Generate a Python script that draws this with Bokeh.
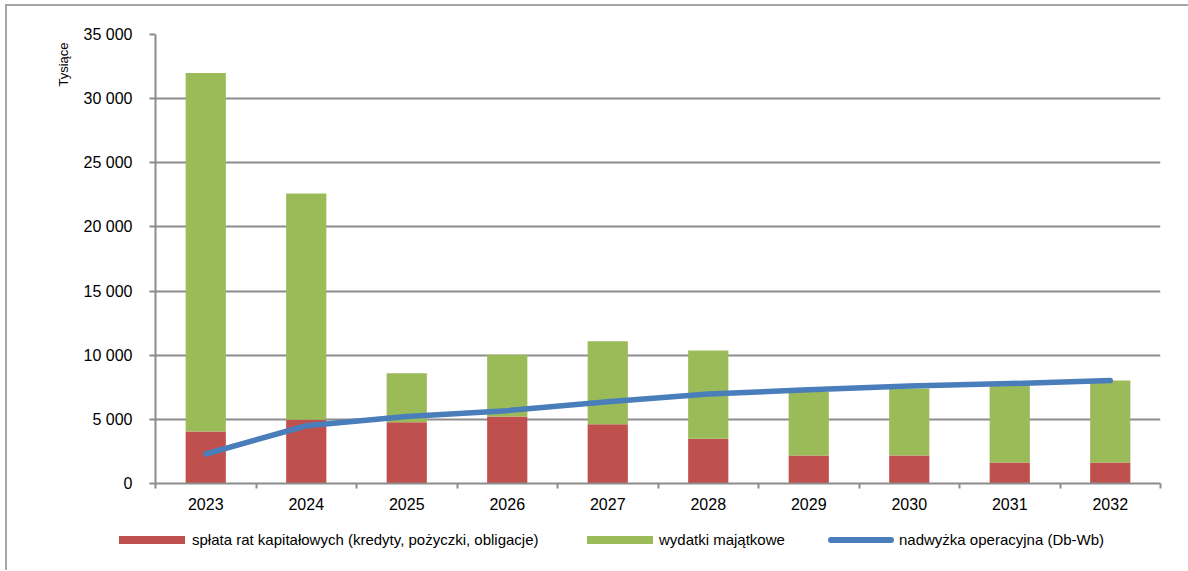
from bokeh.plotting import figure
from bokeh.layouts import column
from bokeh.models import FixedTicker, Title, ColumnDataSource, Div
from bokeh.embed import file_html
from bokeh.resources import INLINE

# ---- data ----
years = ["2023", "2024", "2025", "2026", "2027", "2028", "2029", "2030", "2031", "2032"]
splata = [4050, 4960, 4780, 5230, 4610, 3490, 2180, 2180, 1640, 1640]
wydatki = [27950, 17640, 3820, 4800, 6480, 6880, 4970, 5220, 6130, 6390]
nadwyzka = [2300, 4500, 5230, 5680, 6380, 6980, 7300, 7600, 7790, 8020]
y_ticks = [0, 5000, 10000, 15000, 20000, 25000, 30000, 35000]
y_tick_labels = ["0", "5 000", "10 000", "15 000", "20 000", "25 000", "30 000", "35 000"]
series_names = ["spłata rat kapitałowych (kredyty, pożyczki, obligacje)",
                "wydatki majątkowe",
                "nadwyżka operacyjna (Db-Wb)"]
y_title = "Tysiące"

RED = "#C0504D"
GREEN = "#9BBB59"
BLUE = "#4A7EBB"
GRAY = "#8C8C8C"
FONT = "Liberation Sans"

xpos = [i + 1 for i in range(len(years))]
src = ColumnDataSource(dict(x=xpos, splata=splata, wydatki=wydatki, nadwyzka=nadwyzka))

p = figure(frame_width=1005, frame_height=449,
           x_range=(0.5, len(years) + 0.5), y_range=(0, 35000),
           output_backend="svg", toolbar_location=None,
           min_border_left=148, min_border_right=20,
           min_border_top=28, min_border_bottom=0)
p.outline_line_color = None
p.background_fill_color = "white"

bars = p.vbar_stack(["splata", "wydatki"], x="x", width=0.4, source=src,
                    color=[RED, GREEN], line_color=None)
ln = p.line("x", "nadwyzka", source=src, line_width=5.5, line_color=BLUE,
            line_cap="round", line_join="round")

# y axis
p.yaxis.ticker = FixedTicker(ticks=y_ticks)
p.yaxis.major_label_overrides = {v: l for v, l in zip(y_ticks, y_tick_labels)}
p.yaxis.axis_line_color = GRAY
p.yaxis.axis_line_width = 2
p.yaxis.major_tick_line_color = GRAY
p.yaxis.major_tick_line_width = 2
p.yaxis.major_tick_out = 6
p.yaxis.major_tick_in = 0
p.yaxis.minor_tick_line_color = None
p.yaxis.major_label_standoff = 17
p.yaxis.major_label_text_font = FONT
p.yaxis.major_label_text_font_size = "16px"
p.yaxis.major_label_text_color = "black"
p.ygrid.ticker = FixedTicker(ticks=y_ticks)
p.ygrid.grid_line_color = GRAY
p.ygrid.grid_line_width = 2
p.xgrid.visible = False

# x axis
p.xaxis.ticker = FixedTicker(ticks=xpos, minor_ticks=[i + 0.5 for i in range(len(years) + 1)])
p.xaxis.major_label_overrides = {v: y for v, y in zip(xpos, years)}
p.xaxis.axis_line_color = GRAY
p.xaxis.axis_line_width = 2
p.xaxis.major_tick_line_color = None
p.xaxis.minor_tick_line_color = GRAY
p.xaxis.minor_tick_line_width = 2
p.xaxis.minor_tick_out = 5
p.xaxis.minor_tick_in = 0
p.xaxis.major_label_standoff = 8
p.xaxis.major_label_text_font = FONT
p.xaxis.major_label_text_font_size = "16px"
p.xaxis.major_label_text_color = "black"

p.add_layout(Title(text=y_title, align="right", offset=8, standoff=19, text_font=FONT,
                   text_font_size="13px", text_font_style="normal",
                   text_color="black"), "left")

# legend row (HTML, real text)
swatch_x = [112, 580, 821]
label_x = [185, 652, 892]
swatches = [
    f"background:{RED};top:24px;height:8px;",
    f"background:{GREEN};top:24px;height:8px;",
    f"background:{BLUE};top:25px;height:6px;border-radius:3px;",
]
parts = []
for name, sx, lx, sw in zip(series_names, swatch_x, label_x, swatches):
    parts.append(f'<span style="position:absolute;left:{sx}px;width:66px;{sw}"></span>')
    parts.append(f'<span style="position:absolute;left:{lx}px;top:19px;line-height:18px;'
                 f'white-space:nowrap;">{name}</span>')
html = ('<div style="position:relative;width:1181px;height:58px;'
        f"font-family:'{FONT}';font-size:15px;color:#000;\">" + "".join(parts) + "</div>")
leg = Div(text=html, width=1181, height=58, margin=0)

layout = column(p, leg, spacing=0,
                styles={"margin-left": "5px", "margin-top": "4px",
                        "border-left": "2px solid #A6A6A6", "border-top": "2px solid #A6A6A6"})

open("out.html", "w").write(file_html(layout, INLINE))
